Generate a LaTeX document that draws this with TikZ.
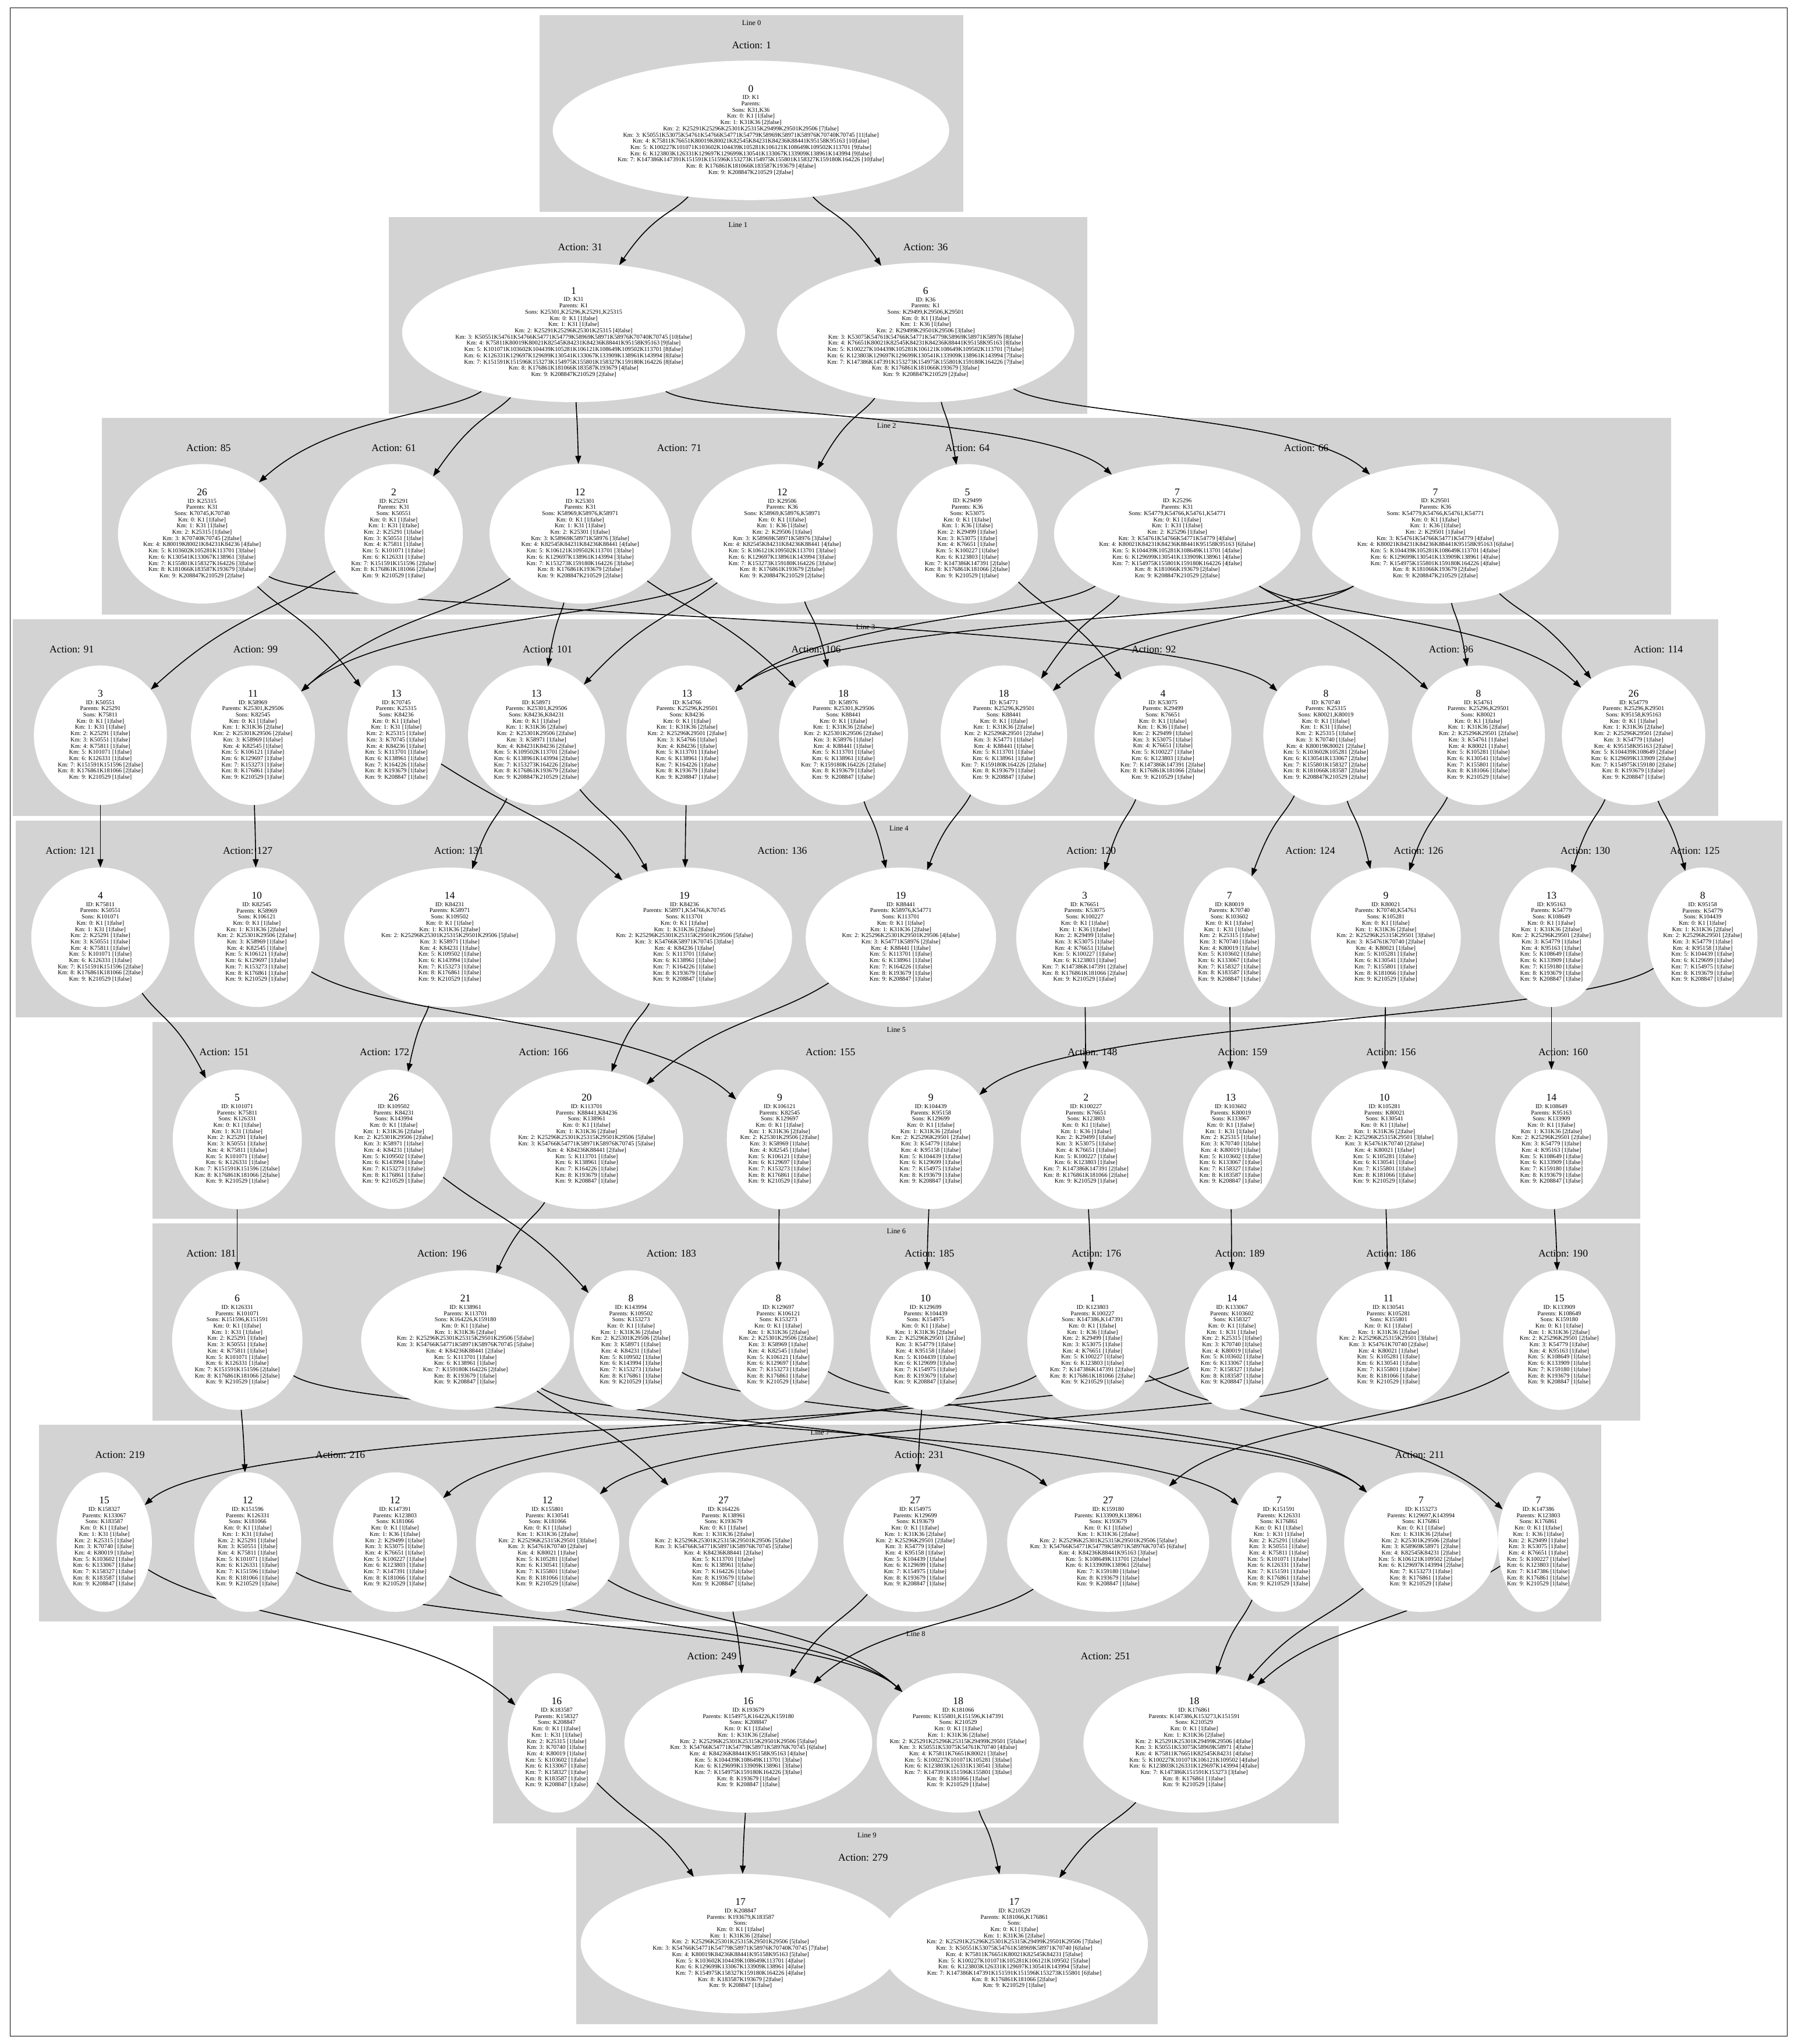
\documentclass[tikz,border=0pt]{standalone}
\usepackage{fontspec}
\setmainfont{Liberation Serif}
\usetikzlibrary{shapes.geometric,arrows.meta,calc}
\definecolor{gvgray}{RGB}{211,211,211}
\pgfdeclarelayer{bg}\pgfdeclarelayer{edg}
\pgfsetlayers{bg,edg,main}
\newcommand\KM[3]{Km: #1: #2 [#3|false]}
\newcommand\NUM[1]{{\fontsize{17.6}{18}\selectfont #1}\\[2pt]}
\newcommand\GN[4]{\node[gell,minimum width={#3*2.2394pt}] (#1) at (#2) {};\node[gtxt] (#1t) at (#2) {#4};}
\newcommand\CL[6]{\begin{pgfonlayer}{bg}\fill[gvgray] (#2,#3) rectangle (#4,#5);\end{pgfonlayer}\node[lin] (#1) at ({(#2+#4)/2},{#3+6}) {#6};}
\newcommand\AC[3]{\node[act] (#1) at (#2) {Action: #3};}
\newcommand\ED[3]{\draw[edge] let \p1=(#1.center),\p2=(#2.center),\p3=(0,#3),\n1={max(-224,min(224,0.45*(\x2-\x1)))} in (#1) .. controls ({\x1+\n1},\y3) and ({\x2-\n1},\y3) .. (#2);}
\newcommand\EDS[2]{\foreach \ea/\eb in {#2} {\ED{\ea}{\eb}{#1}}}
\begin{document}
\begin{tikzpicture}[x=2.2394pt,y=-2.2394pt,
  gell/.style={ellipse,fill=white,draw=none,inner sep=0pt,minimum height=239.6pt},
  gtxt/.style={align=center,inner sep=0pt,font=\fontsize{10.3}{10.7}\selectfont},
  act/.style={inner sep=0pt,font=\fontsize{17.6}{18}\selectfont},
  lin/.style={inner sep=0pt,font=\fontsize{12.6}{13}\selectfont},
  edge/.style={line width=1.6pt,-{Triangle[length=14pt,width=10pt]}}]
\useasboundingbox (0,0) rectangle (1379,1568);
\begin{pgfonlayer}{bg}
\fill[white] (0,0) rectangle (1379,1568);
\end{pgfonlayer}
\draw[line width=1pt] (8,6) rectangle (1371,1562);
% clusters
\CL{l0}{414}{11.6}{739}{162.6}{Line 0}
\CL{l1}{298.3}{166.6}{833.8}{317.6}{Line 1}
\CL{l2}{78}{320.6}{1282}{471.6}{Line 2}
\CL{l3}{10}{475}{1318}{626}{Line 3}
\CL{l4}{12}{629.6}{1367}{780.6}{Line 4}
\CL{l5}{117}{784}{1258}{935}{Line 5}
\CL{l6}{117}{938.6}{1258}{1089.6}{Line 6}
\CL{l7}{30}{1093}{1228}{1244}{Line 7}
\CL{l8}{378}{1247.6}{1027}{1398.6}{Line 8}
\CL{l9}{442}{1402}{888}{1553}{Line 9}
% actions
\AC{a1}{576.5,34.6}{1}
\AC{a31}{445,189.6}{31}\AC{a36}{710,189.6}{36}
\AC{a85}{160,343.6}{85}\AC{a61}{302,343.6}{61}\AC{a71}{521,343.6}{71}\AC{a64}{742,343.6}{64}\AC{a66}{1002,343.6}{66}
\AC{a91}{55,498}{91}\AC{a99}{196,498}{99}\AC{a101}{420,498}{101}\AC{a106}{626,498}{106}\AC{a92}{885,498}{92}\AC{a96}{1113,498}{96}\AC{a114}{1272,498}{114}
\AC{a121}{54,652.6}{121}\AC{a127}{190,652.6}{127}\AC{a131}{352,652.6}{131}\AC{a136}{600,652.6}{136}\AC{a120}{837,652.6}{120}\AC{a124}{1005,652.6}{124}\AC{a126}{1088,652.6}{126}\AC{a130}{1216,652.6}{130}\AC{a125}{1300,652.6}{125}
\AC{a151}{172,807}{151}\AC{a172}{295,807}{172}\AC{a166}{417,807}{166}\AC{a155}{637,807}{155}\AC{a148}{838,807}{148}\AC{a159}{953,807}{159}\AC{a156}{1067,807}{156}\AC{a160}{1199,807}{160}
\AC{a181}{162,961.6}{181}\AC{a196}{339,961.6}{196}\AC{a183}{515,961.6}{183}\AC{a185}{713,961.6}{185}\AC{a176}{841,961.6}{176}\AC{a189}{951,961.6}{189}\AC{a186}{1067,961.6}{186}\AC{a190}{1199,961.6}{190}
\AC{a219}{92,1116}{219}\AC{a216}{261,1116}{216}\AC{a231}{705,1116}{231}\AC{a211}{1089,1116}{211}
\AC{a249}{546,1270.6}{249}\AC{a251}{848,1270.6}{251}
\AC{a279}{662,1425}{279}
% Line 0
\GN{k1}{576,100}{304}{\NUM{0}ID: K1\\Parents:\\Sons: K31,K36\\\KM0{K1}1\\\KM1{K31K36}2\\\KM2{K25291K25296K25301K25315K29499K29501K29506}7\\\KM3{K50551K53075K54761K54766K54771K54779K58969K58971K58976K70740K70745}{11}\\\KM4{K75811K76651K80019K80021K82545K84231K84236K88441K95158K95163}{10}\\\KM5{K100227K101071K103602K104439K105281K106121K108649K109502K113701}9\\\KM6{K123803K126331K129697K129699K130541K133067K133909K138961K143994}9\\\KM7{K147386K147391K151591K151596K153273K154975K155801K158327K159180K164226}{10}\\\KM8{K176861K181066K183587K193679}4\\\KM9{K208847K210529}2}
% Line 1
\GN{k31}{440,255}{263}{\NUM{1}ID: K31\\Parents: K1\\Sons: K25301,K25296,K25291,K25315\\\KM0{K1}1\\\KM1{K31}1\\\KM2{K25291K25296K25301K25315}4\\\KM3{K50551K54761K54766K54771K54779K58969K58971K58976K70740K70745}{10}\\\KM4{K75811K80019K80021K82545K84231K84236K88441K95158K95163}9\\\KM5{K101071K103602K104439K105281K106121K108649K109502K113701}8\\\KM6{K126331K129697K129699K130541K133067K133909K138961K143994}8\\\KM7{K151591K151596K153273K154975K155801K158327K159180K164226}8\\\KM8{K176861K181066K183587K193679}4\\\KM9{K208847K210529}2}
\GN{k36}{710,255}{228}{\NUM{6}ID: K36\\Parents: K1\\Sons: K29499,K29506,K29501\\\KM0{K1}1\\\KM1{K36}1\\\KM2{K29499K29501K29506}3\\\KM3{K53075K54761K54766K54771K54779K58969K58971K58976}8\\\KM4{K76651K80021K82545K84231K84236K88441K95158K95163}8\\\KM5{K100227K104439K105281K106121K108649K109502K113701}7\\\KM6{K123803K129697K129699K130541K133909K138961K143994}7\\\KM7{K147386K147391K153273K154975K155801K159180K164226}7\\\KM8{K176861K181066K193679}3\\\KM9{K208847K210529}2}
% Line 2
\GN{k25315}{155,409.5}{129}{\NUM{26}ID: K25315\\Parents: K31\\Sons: K70745,K70740\\\KM0{K1}1\\\KM1{K31}1\\\KM2{K25315}1\\\KM3{K70740K70745}2\\\KM4{K80019K80021K84231K84236}4\\\KM5{K103602K105281K113701}3\\\KM6{K130541K133067K138961}3\\\KM7{K155801K158327K164226}3\\\KM8{K181066K183587K193679}3\\\KM9{K208847K210529}2}
\GN{k25291}{302,409.5}{106}{\NUM{2}ID: K25291\\Parents: K31\\Sons: K50551\\\KM0{K1}1\\\KM1{K31}1\\\KM2{K25291}1\\\KM3{K50551}1\\\KM4{K75811}1\\\KM5{K101071}1\\\KM6{K126331}1\\\KM7{K151591K151596}2\\\KM8{K176861K181066}2\\\KM9{K210529}1}
\GN{k25301}{445,409.5}{139}{\NUM{12}ID: K25301\\Parents: K31\\Sons: K58969,K58976,K58971\\\KM0{K1}1\\\KM1{K31}1\\\KM2{K25301}1\\\KM3{K58969K58971K58976}3\\\KM4{K82545K84231K84236K88441}4\\\KM5{K106121K109502K113701}3\\\KM6{K129697K138961K143994}3\\\KM7{K153273K159180K164226}3\\\KM8{K176861K193679}2\\\KM9{K208847K210529}2}
\GN{k29506}{600,409.5}{139}{\NUM{12}ID: K29506\\Parents: K36\\Sons: K58969,K58976,K58971\\\KM0{K1}1\\\KM1{K36}1\\\KM2{K29506}1\\\KM3{K58969K58971K58976}3\\\KM4{K82545K84231K84236K88441}4\\\KM5{K106121K109502K113701}3\\\KM6{K129697K138961K143994}3\\\KM7{K153273K159180K164226}3\\\KM8{K176861K193679}2\\\KM9{K208847K210529}2}
\GN{k29499}{742,409.5}{108}{\NUM{5}ID: K29499\\Parents: K36\\Sons: K53075\\\KM0{K1}1\\\KM1{K36}1\\\KM2{K29499}1\\\KM3{K53075}1\\\KM4{K76651}1\\\KM5{K100227}1\\\KM6{K123803}1\\\KM7{K147386K147391}2\\\KM8{K176861K181066}2\\\KM9{K210529}1}
\GN{k25296}{903,409.5}{189}{\NUM{7}ID: K25296\\Parents: K31\\Sons: K54779,K54766,K54761,K54771\\\KM0{K1}1\\\KM1{K31}1\\\KM2{K25296}1\\\KM3{K54761K54766K54771K54779}4\\\KM4{K80021K84231K84236K88441K95158K95163}6\\\KM5{K104439K105281K108649K113701}4\\\KM6{K129699K130541K133909K138961}4\\\KM7{K154975K155801K159180K164226}4\\\KM8{K181066K193679}2\\\KM9{K208847K210529}2}
\GN{k29501}{1101,409.5}{189}{\NUM{7}ID: K29501\\Parents: K36\\Sons: K54779,K54766,K54761,K54771\\\KM0{K1}1\\\KM1{K36}1\\\KM2{K29501}1\\\KM3{K54761K54766K54771K54779}4\\\KM4{K80021K84231K84236K88441K95158K95163}6\\\KM5{K104439K105281K108649K113701}4\\\KM6{K129699K130541K133909K138961}4\\\KM7{K154975K155801K159180K164226}4\\\KM8{K181066K193679}2\\\KM9{K208847K210529}2}
% Line 3
\GN{k50551}{77,564}{102}{\NUM{3}ID: K50551\\Parents: K25291\\Sons: K75811\\\KM0{K1}1\\\KM1{K31}1\\\KM2{K25291}1\\\KM3{K50551}1\\\KM4{K75811}1\\\KM5{K101071}1\\\KM6{K126331}1\\\KM7{K151591K151596}2\\\KM8{K176861K181066}2\\\KM9{K210529}1}
\GN{k58969}{194,564}{95}{\NUM{11}ID: K58969\\Parents: K25301,K29506\\Sons: K82545\\\KM0{K1}1\\\KM1{K31K36}2\\\KM2{K25301K29506}2\\\KM3{K58969}1\\\KM4{K82545}1\\\KM5{K106121}1\\\KM6{K129697}1\\\KM7{K153273}1\\\KM8{K176861}1\\\KM9{K210529}1}
\GN{k70745}{304,564}{75}{\NUM{13}ID: K70745\\Parents: K25315\\Sons: K84236\\\KM0{K1}1\\\KM1{K31}1\\\KM2{K25315}1\\\KM3{K70745}1\\\KM4{K84236}1\\\KM5{K113701}1\\\KM6{K138961}1\\\KM7{K164226}1\\\KM8{K193679}1\\\KM9{K208847}1}
\GN{k58971}{411.5,564}{105}{\NUM{13}ID: K58971\\Parents: K25301,K29506\\Sons: K84236,K84231\\\KM0{K1}1\\\KM1{K31K36}2\\\KM2{K25301K29506}2\\\KM3{K58971}1\\\KM4{K84231K84236}2\\\KM5{K109502K113701}2\\\KM6{K138961K143994}2\\\KM7{K153273K164226}2\\\KM8{K176861K193679}2\\\KM9{K208847K210529}2}
\GN{k54766}{527,564}{93}{\NUM{13}ID: K54766\\Parents: K25296,K29501\\Sons: K84236\\\KM0{K1}1\\\KM1{K31K36}2\\\KM2{K25296K29501}2\\\KM3{K54766}1\\\KM4{K84236}1\\\KM5{K113701}1\\\KM6{K138961}1\\\KM7{K164226}1\\\KM8{K193679}1\\\KM9{K208847}1}
\GN{k58976}{647,564}{99}{\NUM{18}ID: K58976\\Parents: K25301,K29506\\Sons: K88441\\\KM0{K1}1\\\KM1{K31K36}2\\\KM2{K25301K29506}2\\\KM3{K58976}1\\\KM4{K88441}1\\\KM5{K113701}1\\\KM6{K138961}1\\\KM7{K159180K164226}2\\\KM8{K193679}1\\\KM9{K208847}1}
\GN{k54771}{770,564}{97}{\NUM{18}ID: K54771\\Parents: K25296,K29501\\Sons: K88441\\\KM0{K1}1\\\KM1{K31K36}2\\\KM2{K25296K29501}2\\\KM3{K54771}1\\\KM4{K88441}1\\\KM5{K113701}1\\\KM6{K138961}1\\\KM7{K159180K164226}2\\\KM8{K193679}1\\\KM9{K208847}1}
\GN{k53075}{892,564}{105}{\NUM{4}ID: K53075\\Parents: K29499\\Sons: K76651\\\KM0{K1}1\\\KM1{K36}1\\\KM2{K29499}1\\\KM3{K53075}1\\\KM4{K76651}1\\\KM5{K100227}1\\\KM6{K123803}1\\\KM7{K147386K147391}2\\\KM8{K176861K181066}2\\\KM9{K210529}1}
\GN{k70740}{1017,564}{96}{\NUM{8}ID: K70740\\Parents: K25315\\Sons: K80021,K80019\\\KM0{K1}1\\\KM1{K31}1\\\KM2{K25315}1\\\KM3{K70740}1\\\KM4{K80019K80021}2\\\KM5{K103602K105281}2\\\KM6{K130541K133067}2\\\KM7{K155801K158327}2\\\KM8{K181066K183587}2\\\KM9{K208847K210529}2}
\GN{k54761}{1134,564}{102}{\NUM{8}ID: K54761\\Parents: K25296,K29501\\Sons: K80021\\\KM0{K1}1\\\KM1{K31K36}2\\\KM2{K25296K29501}2\\\KM3{K54761}1\\\KM4{K80021}1\\\KM5{K105281}1\\\KM6{K130541}1\\\KM7{K155801}1\\\KM8{K181066}1\\\KM9{K210529}1}
\GN{k54779}{1253,564}{110}{\NUM{26}ID: K54779\\Parents: K25296,K29501\\Sons: K95158,K95163\\\KM0{K1}1\\\KM1{K31K36}2\\\KM2{K25296K29501}2\\\KM3{K54779}1\\\KM4{K95158K95163}2\\\KM5{K104439K108649}2\\\KM6{K129699K133909}2\\\KM7{K154975K159180}2\\\KM8{K193679}1\\\KM9{K208847}1}
% Line 4
\GN{k75811}{77,719}{106}{\NUM{4}ID: K75811\\Parents: K50551\\Sons: K101071\\\KM0{K1}1\\\KM1{K31}1\\\KM2{K25291}1\\\KM3{K50551}1\\\KM4{K75811}1\\\KM5{K101071}1\\\KM6{K126331}1\\\KM7{K151591K151596}2\\\KM8{K176861K181066}2\\\KM9{K210529}1}
\GN{k82545}{197,719}{96}{\NUM{10}ID: K82545\\Parents: K58969\\Sons: K106121\\\KM0{K1}1\\\KM1{K31K36}2\\\KM2{K25301K29506}2\\\KM3{K58969}1\\\KM4{K82545}1\\\KM5{K106121}1\\\KM6{K129697}1\\\KM7{K153273}1\\\KM8{K176861}1\\\KM9{K210529}1}
\GN{k84231}{345,719}{162}{\NUM{14}ID: K84231\\Parents: K58971\\Sons: K109502\\\KM0{K1}1\\\KM1{K31K36}2\\\KM2{K25296K25301K25315K29501K29506}5\\\KM3{K58971}1\\\KM4{K84231}1\\\KM5{K109502}1\\\KM6{K143994}1\\\KM7{K153273}1\\\KM8{K176861}1\\\KM9{K210529}1}
\GN{k84236}{525,719}{165}{\NUM{19}ID: K84236\\Parents: K58971,K54766,K70745\\Sons: K113701\\\KM0{K1}1\\\KM1{K31K36}2\\\KM2{K25296K25301K25315K29501K29506}5\\\KM3{K54766K58971K70745}3\\\KM4{K84236}1\\\KM5{K113701}1\\\KM6{K138961}1\\\KM7{K164226}1\\\KM8{K193679}1\\\KM9{K208847}1}
\GN{k88441}{691,719}{146}{\NUM{19}ID: K88441\\Parents: K58976,K54771\\Sons: K113701\\\KM0{K1}1\\\KM1{K31K36}2\\\KM2{K25296K25301K29501K29506}4\\\KM3{K54771K58976}2\\\KM4{K88441}1\\\KM5{K113701}1\\\KM6{K138961}1\\\KM7{K164226}1\\\KM8{K193679}1\\\KM9{K208847}1}
\GN{k76651}{832,719}{105}{\NUM{3}ID: K76651\\Parents: K53075\\Sons: K100227\\\KM0{K1}1\\\KM1{K36}1\\\KM2{K29499}1\\\KM3{K53075}1\\\KM4{K76651}1\\\KM5{K100227}1\\\KM6{K123803}1\\\KM7{K147386K147391}2\\\KM8{K176861K181066}2\\\KM9{K210529}1}
\GN{k80019}{943,719}{70}{\NUM{7}ID: K80019\\Parents: K70740\\Sons: K103602\\\KM0{K1}1\\\KM1{K31}1\\\KM2{K25315}1\\\KM3{K70740}1\\\KM4{K80019}1\\\KM5{K103602}1\\\KM6{K133067}1\\\KM7{K158327}1\\\KM8{K183587}1\\\KM9{K208847}1}
\GN{k80021}{1063,719}{115}{\NUM{9}ID: K80021\\Parents: K70740,K54761\\Sons: K105281\\\KM0{K1}1\\\KM1{K31K36}2\\\KM2{K25296K25315K29501}3\\\KM3{K54761K70740}2\\\KM4{K80021}1\\\KM5{K105281}1\\\KM6{K130541}1\\\KM7{K155801}1\\\KM8{K181066}1\\\KM9{K210529}1}
\GN{k95163}{1190,719}{80}{\NUM{13}ID: K95163\\Parents: K54779\\Sons: K108649\\\KM0{K1}1\\\KM1{K31K36}2\\\KM2{K25296K29501}2\\\KM3{K54779}1\\\KM4{K95163}1\\\KM5{K108649}1\\\KM6{K133909}1\\\KM7{K159180}1\\\KM8{K193679}1\\\KM9{K208847}1}
\GN{k95158}{1306,719}{84}{\NUM{8}ID: K95158\\Parents: K54779\\Sons: K104439\\\KM0{K1}1\\\KM1{K31K36}2\\\KM2{K25296K29501}2\\\KM3{K54779}1\\\KM4{K95158}1\\\KM5{K104439}1\\\KM6{K129699}1\\\KM7{K154975}1\\\KM8{K193679}1\\\KM9{K208847}1}
% Line 5
\GN{k101071}{182,874}{99}{\NUM{5}ID: K101071\\Parents: K75811\\Sons: K126331\\\KM0{K1}1\\\KM1{K31}1\\\KM2{K25291}1\\\KM3{K50551}1\\\KM4{K75811}1\\\KM5{K101071}1\\\KM6{K126331}1\\\KM7{K151591K151596}2\\\KM8{K176861K181066}2\\\KM9{K210529}1}
\GN{k109502}{302,874}{90}{\NUM{26}ID: K109502\\Parents: K84231\\Sons: K143994\\\KM0{K1}1\\\KM1{K31K36}2\\\KM2{K25301K29506}2\\\KM3{K58971}1\\\KM4{K84231}1\\\KM5{K109502}1\\\KM6{K143994}1\\\KM7{K153273}1\\\KM8{K176861}1\\\KM9{K210529}1}
\GN{k113701}{450,874}{148}{\NUM{20}ID: K113701\\Parents: K88441,K84236\\Sons: K138961\\\KM0{K1}1\\\KM1{K31K36}2\\\KM2{K25296K25301K25315K29501K29506}5\\\KM3{K54766K54771K58971K58976K70745}5\\\KM4{K84236K88441}2\\\KM5{K113701}1\\\KM6{K138961}1\\\KM7{K164226}1\\\KM8{K193679}1\\\KM9{K208847}1}
\GN{k106121}{598,874}{81}{\NUM{9}ID: K106121\\Parents: K82545\\Sons: K129697\\\KM0{K1}1\\\KM1{K31K36}2\\\KM2{K25301K29506}2\\\KM3{K58969}1\\\KM4{K82545}1\\\KM5{K106121}1\\\KM6{K129697}1\\\KM7{K153273}1\\\KM8{K176861}1\\\KM9{K210529}1}
\GN{k104439}{714,874}{96}{\NUM{9}ID: K104439\\Parents: K95158\\Sons: K129699\\\KM0{K1}1\\\KM1{K31K36}2\\\KM2{K25296K29501}2\\\KM3{K54779}1\\\KM4{K95158}1\\\KM5{K104439}1\\\KM6{K129699}1\\\KM7{K154975}1\\\KM8{K193679}1\\\KM9{K208847}1}
\GN{k100227}{833,874}{100}{\NUM{2}ID: K100227\\Parents: K76651\\Sons: K123803\\\KM0{K1}1\\\KM1{K36}1\\\KM2{K29499}1\\\KM3{K53075}1\\\KM4{K76651}1\\\KM5{K100227}1\\\KM6{K123803}1\\\KM7{K147386K147391}2\\\KM8{K176861K181066}2\\\KM9{K210529}1}
\GN{k103602}{944,874}{73}{\NUM{13}ID: K103602\\Parents: K80019\\Sons: K133067\\\KM0{K1}1\\\KM1{K31}1\\\KM2{K25315}1\\\KM3{K70740}1\\\KM4{K80019}1\\\KM5{K103602}1\\\KM6{K133067}1\\\KM7{K158327}1\\\KM8{K183587}1\\\KM9{K208847}1}
\GN{k105281}{1062,874}{112}{\NUM{10}ID: K105281\\Parents: K80021\\Sons: K130541\\\KM0{K1}1\\\KM1{K31K36}2\\\KM2{K25296K25315K29501}3\\\KM3{K54761K70740}2\\\KM4{K80021}1\\\KM5{K105281}1\\\KM6{K130541}1\\\KM7{K155801}1\\\KM8{K181066}1\\\KM9{K210529}1}
\GN{k108649}{1190,874}{86}{\NUM{14}ID: K108649\\Parents: K95163\\Sons: K133909\\\KM0{K1}1\\\KM1{K31K36}2\\\KM2{K25296K29501}2\\\KM3{K54779}1\\\KM4{K95163}1\\\KM5{K108649}1\\\KM6{K133909}1\\\KM7{K159180}1\\\KM8{K193679}1\\\KM9{K208847}1}
% Line 6
\GN{k126331}{182,1028}{100}{\NUM{6}ID: K126331\\Parents: K101071\\Sons: K151596,K151591\\\KM0{K1}1\\\KM1{K31}1\\\KM2{K25291}1\\\KM3{K50551}1\\\KM4{K75811}1\\\KM5{K101071}1\\\KM6{K126331}1\\\KM7{K151591K151596}2\\\KM8{K176861K181066}2\\\KM9{K210529}1}
\GN{k138961}{357,1028}{160}{\NUM{21}ID: K138961\\Parents: K113701\\Sons: K164226,K159180\\\KM0{K1}1\\\KM1{K31K36}2\\\KM2{K25296K25301K25315K29501K29506}5\\\KM3{K54766K54771K58971K58976K70745}5\\\KM4{K84236K88441}2\\\KM5{K113701}1\\\KM6{K138961}1\\\KM7{K159180K164226}2\\\KM8{K193679}1\\\KM9{K208847}1}
\GN{k143994}{484,1028}{88}{\NUM{8}ID: K143994\\Parents: K109502\\Sons: K153273\\\KM0{K1}1\\\KM1{K31K36}2\\\KM2{K25301K29506}2\\\KM3{K58971}1\\\KM4{K84231}1\\\KM5{K109502}1\\\KM6{K143994}1\\\KM7{K153273}1\\\KM8{K176861}1\\\KM9{K210529}1}
\GN{k129697}{597,1028}{85}{\NUM{8}ID: K129697\\Parents: K106121\\Sons: K153273\\\KM0{K1}1\\\KM1{K31K36}2\\\KM2{K25301K29506}2\\\KM3{K58969}1\\\KM4{K82545}1\\\KM5{K106121}1\\\KM6{K129697}1\\\KM7{K153273}1\\\KM8{K176861}1\\\KM9{K210529}1}
\GN{k129699}{710,1028}{85}{\NUM{10}ID: K129699\\Parents: K104439\\Sons: K154975\\\KM0{K1}1\\\KM1{K31K36}2\\\KM2{K25296K29501}2\\\KM3{K54779}1\\\KM4{K95158}1\\\KM5{K104439}1\\\KM6{K129699}1\\\KM7{K154975}1\\\KM8{K193679}1\\\KM9{K208847}1}
\GN{k123803}{838,1028}{100}{\NUM{1}ID: K123803\\Parents: K100227\\Sons: K147386,K147391\\\KM0{K1}1\\\KM1{K36}1\\\KM2{K29499}1\\\KM3{K53075}1\\\KM4{K76651}1\\\KM5{K100227}1\\\KM6{K123803}1\\\KM7{K147386K147391}2\\\KM8{K176861K181066}2\\\KM9{K210529}1}
\GN{k133067}{945,1028}{72}{\NUM{14}ID: K133067\\Parents: K103602\\Sons: K158327\\\KM0{K1}1\\\KM1{K31}1\\\KM2{K25315}1\\\KM3{K70740}1\\\KM4{K80019}1\\\KM5{K103602}1\\\KM6{K133067}1\\\KM7{K158327}1\\\KM8{K183587}1\\\KM9{K208847}1}
\GN{k130541}{1065,1028}{110}{\NUM{11}ID: K130541\\Parents: K105281\\Sons: K155801\\\KM0{K1}1\\\KM1{K31K36}2\\\KM2{K25296K25315K29501}3\\\KM3{K54761K70740}2\\\KM4{K80021}1\\\KM5{K105281}1\\\KM6{K130541}1\\\KM7{K155801}1\\\KM8{K181066}1\\\KM9{K210529}1}
\GN{k133909}{1196,1028}{86}{\NUM{15}ID: K133909\\Parents: K108649\\Sons: K159180\\\KM0{K1}1\\\KM1{K31K36}2\\\KM2{K25296K29501}2\\\KM3{K54779}1\\\KM4{K95163}1\\\KM5{K108649}1\\\KM6{K133909}1\\\KM7{K159180}1\\\KM8{K193679}1\\\KM9{K208847}1}
% Line 7
\GN{k158327}{80,1183}{73}{\NUM{15}ID: K158327\\Parents: K133067\\Sons: K183587\\\KM0{K1}1\\\KM1{K31}1\\\KM2{K25315}1\\\KM3{K70740}1\\\KM4{K80019}1\\\KM5{K103602}1\\\KM6{K133067}1\\\KM7{K158327}1\\\KM8{K183587}1\\\KM9{K208847}1}
\GN{k151596}{190,1183}{82}{\NUM{12}ID: K151596\\Parents: K126331\\Sons: K181066\\\KM0{K1}1\\\KM1{K31}1\\\KM2{K25291}1\\\KM3{K50551}1\\\KM4{K75811}1\\\KM5{K101071}1\\\KM6{K126331}1\\\KM7{K151596}1\\\KM8{K181066}1\\\KM9{K210529}1}
\GN{k147391}{303,1183}{95}{\NUM{12}ID: K147391\\Parents: K123803\\Sons: K181066\\\KM0{K1}1\\\KM1{K36}1\\\KM2{K29499}1\\\KM3{K53075}1\\\KM4{K76651}1\\\KM5{K100227}1\\\KM6{K123803}1\\\KM7{K147391}1\\\KM8{K181066}1\\\KM9{K210529}1}
\GN{k155801}{420,1183}{110}{\NUM{12}ID: K155801\\Parents: K130541\\Sons: K181066\\\KM0{K1}1\\\KM1{K31K36}2\\\KM2{K25296K25315K29501}3\\\KM3{K54761K70740}2\\\KM4{K80021}1\\\KM5{K105281}1\\\KM6{K130541}1\\\KM7{K155801}1\\\KM8{K181066}1\\\KM9{K210529}1}
\GN{k164226}{555,1183}{145}{\NUM{27}ID: K164226\\Parents: K138961\\Sons: K193679\\\KM0{K1}1\\\KM1{K31K36}2\\\KM2{K25296K25301K25315K29501K29506}5\\\KM3{K54766K54771K58971K58976K70745}5\\\KM4{K84236K88441}2\\\KM5{K113701}1\\\KM6{K138961}1\\\KM7{K164226}1\\\KM8{K193679}1\\\KM9{K208847}1}
\GN{k154975}{702,1183}{110}{\NUM{27}ID: K154975\\Parents: K129699\\Sons: K193679\\\KM0{K1}1\\\KM1{K31K36}2\\\KM2{K25296K29501}2\\\KM3{K54779}1\\\KM4{K95158}1\\\KM5{K104439}1\\\KM6{K129699}1\\\KM7{K154975}1\\\KM8{K193679}1\\\KM9{K208847}1}
\GN{k159180}{850,1183}{155}{\NUM{27}ID: K159180\\Parents: K133909,K138961\\Sons: K193679\\\KM0{K1}1\\\KM1{K31K36}2\\\KM2{K25296K25301K25315K29501K29506}5\\\KM3{K54766K54771K54779K58971K58976K70745}6\\\KM4{K84236K88441K95163}3\\\KM5{K108649K113701}2\\\KM6{K133909K138961}2\\\KM7{K159180}1\\\KM8{K193679}1\\\KM9{K208847}1}
\GN{k151591}{981,1183}{73}{\NUM{7}ID: K151591\\Parents: K126331\\Sons: K176861\\\KM0{K1}1\\\KM1{K31}1\\\KM2{K25291}1\\\KM3{K50551}1\\\KM4{K75811}1\\\KM5{K101071}1\\\KM6{K126331}1\\\KM7{K151591}1\\\KM8{K176861}1\\\KM9{K210529}1}
\GN{k153273}{1090,1183}{118}{\NUM{7}ID: K153273\\Parents: K129697,K143994\\Sons: K176861\\\KM0{K1}1\\\KM1{K31K36}2\\\KM2{K25301K29506}2\\\KM3{K58969K58971}2\\\KM4{K82545K84231}2\\\KM5{K106121K109502}2\\\KM6{K129697K143994}2\\\KM7{K153273}1\\\KM8{K176861}1\\\KM9{K210529}1}
\GN{k147386}{1180,1183}{62}{\NUM{7}ID: K147386\\Parents: K123803\\Sons: K176861\\\KM0{K1}1\\\KM1{K36}1\\\KM2{K29499}1\\\KM3{K53075}1\\\KM4{K76651}1\\\KM5{K100227}1\\\KM6{K123803}1\\\KM7{K147386}1\\\KM8{K176861}1\\\KM9{K210529}1}
% Line 8
\GN{k183587}{427,1337}{75}{\NUM{16}ID: K183587\\Parents: K158327\\Sons: K208847\\\KM0{K1}1\\\KM1{K31}1\\\KM2{K25315}1\\\KM3{K70740}1\\\KM4{K80019}1\\\KM5{K103602}1\\\KM6{K133067}1\\\KM7{K158327}1\\\KM8{K183587}1\\\KM9{K208847}1}
\GN{k193679}{574,1337}{190}{\NUM{16}ID: K193679\\Parents: K154975,K164226,K159180\\Sons: K208847\\\KM0{K1}1\\\KM1{K31K36}2\\\KM2{K25296K25301K25315K29501K29506}5\\\KM3{K54766K54771K54779K58971K58976K70745}6\\\KM4{K84236K88441K95158K95163}4\\\KM5{K104439K108649K113701}3\\\KM6{K129699K133909K138961}3\\\KM7{K154975K159180K164226}3\\\KM8{K193679}1\\\KM9{K208847}1}
\GN{k181066}{735,1337}{125}{\NUM{18}ID: K181066\\Parents: K155801,K151596,K147391\\Sons: K210529\\\KM0{K1}1\\\KM1{K31K36}2\\\KM2{K25291K25296K25315K29499K29501}5\\\KM3{K50551K53075K54761K70740}4\\\KM4{K75811K76651K80021}3\\\KM5{K100227K101071K105281}3\\\KM6{K123803K126331K130541}3\\\KM7{K147391K151596K155801}3\\\KM8{K181066}1\\\KM9{K210529}1}
\GN{k176861}{916,1337}{170}{\NUM{18}ID: K176861\\Parents: K147386,K153273,K151591\\Sons: K210529\\\KM0{K1}1\\\KM1{K31K36}2\\\KM2{K25291K25301K29499K29506}4\\\KM3{K50551K53075K58969K58971}4\\\KM4{K75811K76651K82545K84231}4\\\KM5{K100227K101071K106121K109502}4\\\KM6{K123803K126331K129697K143994}4\\\KM7{K147386K151591K153273}3\\\KM8{K176861}1\\\KM9{K210529}1}
% Line 9
\GN{k208847}{568,1491}{245}{\NUM{17}ID: K208847\\Parents: K193679,K183587\\Sons:\\\KM0{K1}1\\\KM1{K31K36}2\\\KM2{K25296K25301K25315K29501K29506}5\\\KM3{K54766K54771K54779K58971K58976K70740K70745}7\\\KM4{K80019K84236K88441K95158K95163}5\\\KM5{K103602K104439K108649K113701}4\\\KM6{K129699K133067K133909K138961}4\\\KM7{K154975K158327K159180K164226}4\\\KM8{K183587K193679}2\\\KM9{K208847}1}
\GN{k210529}{778,1491}{205}{\NUM{17}ID: K210529\\Parents: K181066,K176861\\Sons:\\\KM0{K1}1\\\KM1{K31K36}2\\\KM2{K25291K25296K25301K25315K29499K29501K29506}7\\\KM3{K50551K53075K54761K58969K58971K70740}6\\\KM4{K75811K76651K80021K82545K84231}5\\\KM5{K100227K101071K105281K106121K109502}5\\\KM6{K123803K126331K129697K130541K143994}5\\\KM7{K147386K147391K151591K151596K153273K155801}6\\\KM8{K176861K181066}2\\\KM9{K210529}1}
% edges
\begin{pgfonlayer}{edg}
\EDS{164.6}{k1/k31,k1/k36}
\EDS{319}{k31/k25301,k31/k25296,k31/k25291,k31/k25315,k36/k29499,k36/k29506,k36/k29501}
\EDS{473.3}{k25315/k70745,k25315/k70740,k25291/k50551,k25301/k58969,k25301/k58976,k25301/k58971,k29506/k58969,k29506/k58976,k29506/k58971,k29499/k53075,k25296/k54779,k25296/k54766,k25296/k54761,k25296/k54771,k29501/k54779,k29501/k54766,k29501/k54761,k29501/k54771}
\EDS{627.8}{k50551/k75811,k58969/k82545,k70745/k84236,k58971/k84236,k58971/k84231,k54766/k84236,k58976/k88441,k54771/k88441,k53075/k76651,k70740/k80021,k70740/k80019,k54761/k80021,k54779/k95158,k54779/k95163}
\EDS{782.3}{k75811/k101071,k82545/k106121,k84231/k109502,k84236/k113701,k88441/k113701,k76651/k100227,k80019/k103602,k80021/k105281,k95163/k108649,k95158/k104439}
\EDS{936.8}{k101071/k126331,k109502/k143994,k113701/k138961,k106121/k129697,k104439/k129699,k100227/k123803,k103602/k133067,k105281/k130541,k108649/k133909}
\EDS{1091.3}{k126331/k151596,k126331/k151591,k138961/k164226,k138961/k159180,k143994/k153273,k129697/k153273,k129699/k154975,k123803/k147386,k123803/k147391,k133067/k158327,k130541/k155801,k133909/k159180}
\EDS{1245.8}{k158327/k183587,k151596/k181066,k147391/k181066,k155801/k181066,k164226/k193679,k154975/k193679,k159180/k193679,k151591/k176861,k153273/k176861,k147386/k176861}
\EDS{1400.3}{k183587/k208847,k193679/k208847,k181066/k210529,k176861/k210529}
\end{pgfonlayer}
\end{tikzpicture}
\end{document}
